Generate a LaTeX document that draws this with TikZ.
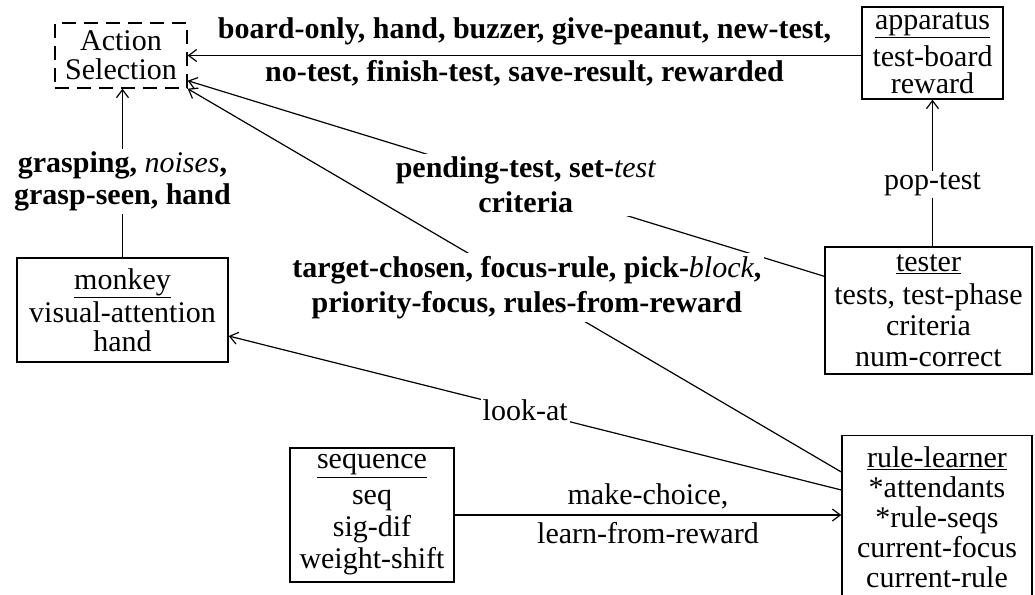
\documentclass[tikz,border=0pt]{standalone}
\usepackage{fontspec}
\setmainfont{Liberation Serif}
\usetikzlibrary{arrows.meta,calc}
\begin{document}
\begin{tikzpicture}[x=1pt,y=-1pt,
  box/.style={draw, line width=1.4pt, rectangle, inner sep=0pt, align=center},
  dbox/.style={box, dash pattern=on 14pt off 8pt},
  lbl/.style={font=\fontsize{30}{35}\selectfont\bfseries, align=center, inner sep=1pt},
  wlbl/.style={lbl, fill=white, inner sep=3pt},
  nlbl/.style={font=\fontsize{30}{32}\selectfont, align=center, inner sep=1pt},
  wnlbl/.style={nlbl, fill=white, inner sep=2pt},
  conn/.style={line width=1.2pt},
  arr/.style={conn, -{Straight Barb[length=8pt,width=12pt,line width=1.2pt]}}]
\useasboundingbox (0,0) rectangle (1035,594);

% boxes
\node[dbox, minimum width=132pt, minimum height=65pt, font=\fontsize{30}{29}\selectfont] (as) at (121,55.5) {Action\\Selection};
\node[box, minimum width=141pt, minimum height=92pt, font=\fontsize{30}{27}\selectfont] (app) at (932.5,53) {\underline{apparatus}\\[7pt]test-board\\reward};
\node[box, minimum width=207pt, minimum height=127pt, font=\fontsize{30}{31}\selectfont] (tester) at (928.5,310.5) {\underline{tester}\\[2pt]tests, test-phase\\criteria\\num-correct};
\node[box, minimum width=211pt, minimum height=104pt, font=\fontsize{30}{29}\selectfont] (monkey) at (122.5,310) {\underline{monkey}\\[3pt]visual-attention\\hand};
\node[box, minimum width=164pt, minimum height=134pt, font=\fontsize{30}{32}\selectfont] (seq) at (372,515) {\underline{sequence}\\[4pt]seq\\sig-dif\\weight-shift};
\node[box, minimum width=190pt, minimum height=164pt, anchor=north, font=\fontsize{30}{30}\selectfont] (rl) at (937,435) {\underline{rule-learner}\\*attendants\\*rule-seqs\\current-focus\\current-rule};

% connectors
\draw[arr] (app.west |- as.east) -- (as.east)
  node[lbl, midway, above=9pt] {board-only, hand, buzzer, give-peanut, new-test,}
  node[lbl, midway, below=3pt] {no-test, finish-test, save-result, rewarded};

\draw[arr] ($(tester.north west)+(0,30)$) -- ($(as.south east)+(0,-8)$)
  node[wlbl, pos=0.469] {pending-test, set-{\mdseries\itshape test}\\criteria};

\draw[arr] ($(rl.north west)+(0,37)$) -- (as.south east)
  node[wlbl, pos=0.481] {target-chosen, focus-rule, pick-{\mdseries\itshape block},\\priority-focus, rules-from-reward};

\draw[arr] ($(rl.north west)+(0,55)$) -- ($(monkey.east)+(0,26)$)
  node[wnlbl, pos=0.516] {look-at};

\draw[arr] (monkey.north) -- (monkey.north |- as.south)
  node[wlbl, pos=0.45, font=\fontsize{30}{32}\selectfont\bfseries] {grasping, {\mdseries\itshape noises},\\grasp-seen, hand};

\draw[arr] (tester.north -| app.south) -- (app.south)
  node[wnlbl, pos=0.42] {pop-test};

\draw[arr] (seq.east) -- (seq.east -| rl.west)
  node[nlbl, midway, above=4pt] {make-choice,}
  node[nlbl, midway, below=6pt] {learn-from-reward};
\end{tikzpicture}
\end{document}
